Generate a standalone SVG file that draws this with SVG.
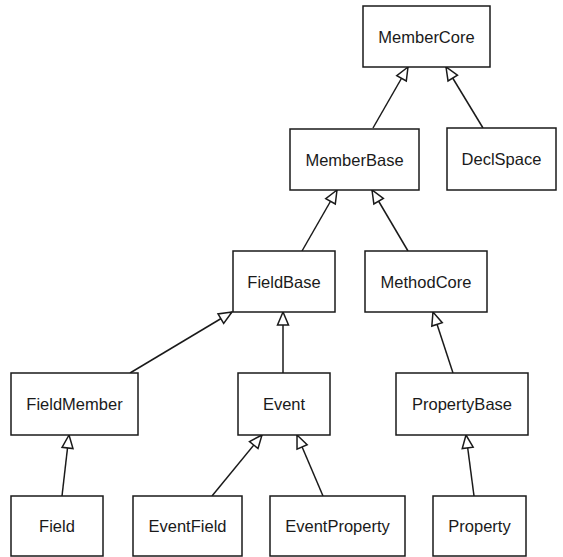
<svg xmlns="http://www.w3.org/2000/svg" width="563" height="557" viewBox="0 0 563 557">
<style>
.box{fill:#fff;stroke:#1a1a1a;stroke-width:1.5}
.lbl{font-family:"Liberation Sans",Arial,Helvetica,sans-serif;font-size:16.5px;fill:#1a1a1a;text-anchor:middle}
.edge{stroke:#1a1a1a;stroke-width:1.5;fill:none;marker-end:url(#tri)}
</style>
<defs>
<marker id="tri" markerUnits="userSpaceOnUse" markerWidth="18" markerHeight="16" viewBox="-15 -8 18 16" refX="0" refY="0" orient="auto">
<path d="M0,0 L-13,-5.5 L-13,5.5 Z" fill="#fff" stroke="#1a1a1a" stroke-width="1.5" stroke-linejoin="miter"/>
</marker>
</defs>
<rect width="563" height="557" fill="#fff"/>
<g id="connectors">
<line class="edge" x1="373" y1="128" x2="408" y2="67"/>
<line class="edge" x1="483" y1="128" x2="446" y2="67"/>
<line class="edge" x1="302" y1="251" x2="337" y2="190"/>
<line class="edge" x1="408" y1="251" x2="372" y2="190"/>
<line class="edge" x1="130" y1="373" x2="232" y2="312"/>
<line class="edge" x1="283" y1="373" x2="283" y2="312"/>
<line class="edge" x1="453" y1="373" x2="433" y2="312"/>
<line class="edge" x1="62" y1="496" x2="69" y2="435"/>
<line class="edge" x1="212" y1="496" x2="262" y2="435"/>
<line class="edge" x1="323" y1="496" x2="297" y2="435"/>
<line class="edge" x1="474" y1="496" x2="466" y2="435"/>
</g>
<g id="MemberCore"><rect class="box" x="363" y="6" width="127" height="61"/><text class="lbl" x="426.5" y="42.5">MemberCore</text></g>
<g id="DeclSpace"><rect class="box" x="447" y="128" width="109" height="62"/><text class="lbl" x="501.5" y="165">DeclSpace</text></g>
<g id="MemberBase"><rect class="box" x="290" y="129" width="129" height="61"/><text class="lbl" x="354.5" y="165.5">MemberBase</text></g>
<g id="FieldBase"><rect class="box" x="233" y="251" width="102" height="61"/><text class="lbl" x="284" y="287.5">FieldBase</text></g>
<g id="MethodCore"><rect class="box" x="365" y="251" width="122" height="61"/><text class="lbl" x="426" y="287.5">MethodCore</text></g>
<g id="FieldMember"><rect class="box" x="11" y="373" width="127" height="62"/><text class="lbl" x="74.5" y="410">FieldMember</text></g>
<g id="Event"><rect class="box" x="238" y="373" width="92" height="62"/><text class="lbl" x="284" y="410">Event</text></g>
<g id="PropertyBase"><rect class="box" x="396" y="373" width="132" height="62"/><text class="lbl" x="462" y="410">PropertyBase</text></g>
<g id="Field"><rect class="box" x="11" y="496" width="92" height="60"/><text class="lbl" x="57" y="532">Field</text></g>
<g id="EventField"><rect class="box" x="133" y="496" width="109" height="60"/><text class="lbl" x="187.5" y="532">EventField</text></g>
<g id="EventProperty"><rect class="box" x="270" y="496" width="135" height="60"/><text class="lbl" x="337.5" y="532">EventProperty</text></g>
<g id="Property"><rect class="box" x="433" y="496" width="93" height="60"/><text class="lbl" x="479.5" y="532">Property</text></g>
</svg>
